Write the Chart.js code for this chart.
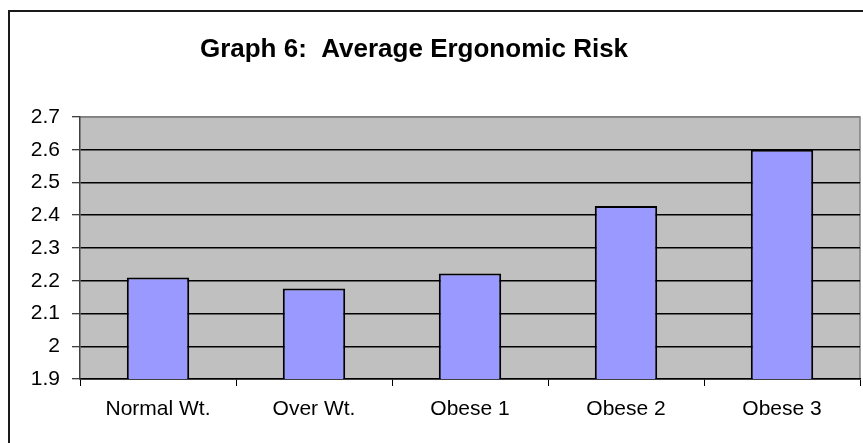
<!DOCTYPE html>
<html>
<head>
<meta charset="utf-8">
<script src="https://cdn.jsdelivr.net/npm/chart.js@4"></script>
<style>
  html, body { margin: 0; padding: 0; background: #fff; }
  #wrap { position: relative; width: 863px; height: 443px; overflow: hidden; }
  #frame { position: absolute; left: 8px; top: 10px; width: 900px; height: 500px; border: 2px solid #1a1a1a; }
  #riskChart { position: absolute; left: 0; top: 0; }
</style>
</head>
<body>
<div id="wrap">
  <div id="frame"></div>
  <canvas id="riskChart" width="863" height="443"></canvas>
</div>
<script>
let groups = ["Normal Wt.", "Over Wt.", "Obese 1", "Obese 2", "Obese 3"];
let avgRisk = [2.21, 2.176, 2.222, 2.428, 2.6];
let yMin = 1.9, yMax = 2.7, yStep = 0.1;
let chartTitle = "Graph 6:  Average Ergonomic Risk";

// gray plot background + gray top/right edge
let plotBg = {
  id: "plotBg",
  beforeDraw(chart) {
    let a = chart.chartArea, c = chart.ctx;
    c.save();
    c.fillStyle = "#c0c0c0";
    c.fillRect(a.left, a.top, a.right - a.left, a.bottom - a.top);
    c.strokeStyle = "#808080";
    c.lineWidth = 1.5;
    c.beginPath();
    c.moveTo(a.left, a.top);
    c.lineTo(a.right, a.top);
    c.lineTo(a.right, a.bottom);
    c.stroke();
    c.restore();
  }
};

// title sits left of centre in the original, so draw it by hand
let titleText = {
  id: "titleText",
  afterDraw(chart) {
    let c = chart.ctx;
    c.save();
    c.font = "bold 26px 'Liberation Sans', Arial, sans-serif";
    c.fillStyle = "#000";
    c.textAlign = "center";
    c.textBaseline = "alphabetic";
    c.fillText(chartTitle, 414, 56.5);
    c.restore();
  }
};

let ctx = document.getElementById("riskChart").getContext("2d");

let riskChart = new Chart(ctx, {
  type: "bar",
  data: {
    labels: groups,
    datasets: [{
      label: "Average Ergonomic Risk",
      data: avgRisk,
      backgroundColor: "#9999ff",
      borderColor: "#000",
      borderWidth: 2,
      borderSkipped: false,
      categoryPercentage: 1,
      barPercentage: 0.4
    }]
  },
  options: {
    responsive: false,
    animation: false,
    layout: { padding: { left: 0, top: 117, right: 3, bottom: 0 } },
    plugins: {
      legend: { display: false },
      title: { display: false },
      tooltip: { enabled: false }
    },
    scales: {
      x: {
        offset: true,
        grid: { offset: true, drawOnChartArea: false, drawTicks: true, tickLength: 7, tickColor: "#000", tickWidth: 1 },
        border: { display: true, color: "#000", width: 1.5 },
        ticks: { color: "#000", padding: 11, font: { family: "'Liberation Sans', Arial, sans-serif", size: 21 } },
        afterFit(scale) { scale.height = 64; }
      },
      y: {
        min: yMin,
        max: yMax,
        grid: {
          color: ctx => (ctx.tick && Math.abs(ctx.tick.value - yMax) < 1e-6) ? "#808080" : "#000",
          lineWidth: 1.5,
          tickLength: 8,
          tickColor: "#000",
          tickWidth: 1
        },
        border: { display: true, color: "#404040", width: 1.5 },
        ticks: {
          stepSize: yStep,
          color: "#000",
          padding: 12,
          font: { family: "'Liberation Sans', Arial, sans-serif", size: 21 },
          callback: v => String(Number(v.toFixed(1)))
        },
        afterFit(scale) { scale.width = 80; }
      }
    }
  },
  plugins: [plotBg, titleText]
});
</script>
</body>
</html>
